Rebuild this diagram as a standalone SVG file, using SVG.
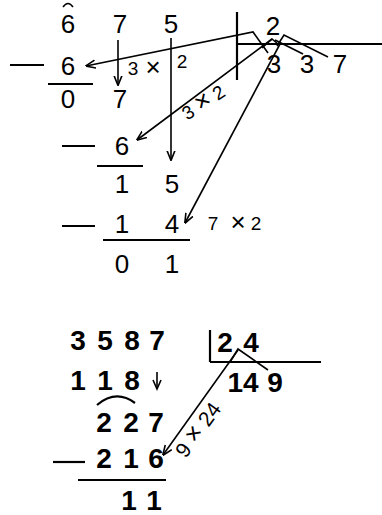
<svg xmlns="http://www.w3.org/2000/svg" width="382" height="515" viewBox="0 0 382 515">
<style>
.d{font-family:"Liberation Sans",Arial,sans-serif;font-size:26px;text-anchor:middle;fill:#000}
.b{font-family:"Liberation Sans",Arial,sans-serif;font-size:28px;font-weight:bold;text-anchor:middle;fill:#000}
.s{font-family:"Liberation Sans",Arial,sans-serif;font-size:19px;text-anchor:middle;fill:#000}
.x{font-size:26px}
.ln{stroke:#000;stroke-width:2.2;fill:none}
.ar{stroke:#000;stroke-width:1.6;fill:none}
.ara{stroke:#000;stroke-width:1.6;fill:none;marker-end:url(#ah)}
</style>
<defs>
<marker id="ah" viewBox="0 0 10 10" refX="9.5" refY="5" markerWidth="10" markerHeight="10" markerUnits="userSpaceOnUse" orient="auto">
<path d="M0,1 L10,5 L0,9" fill="none" stroke="#000" stroke-width="1.6"/>
</marker>
</defs>
<rect width="382" height="515" fill="#fff"/>

<g id="top-division">
<text class="d" x="68" y="33">6</text>
<path class="ar" d="M63,7 Q68,0 73,7"/>
<text class="d" x="120" y="33">7</text>
<text class="d" x="171" y="33">5</text>
<text class="d" x="273" y="35">2</text>
<line class="ln" x1="237" y1="12" x2="237" y2="80"/>
<line class="ln" x1="237" y1="44" x2="382" y2="44"/>
<text class="d" x="274" y="73">3</text>
<text class="d" x="307" y="73">3</text>
<text class="d" x="340" y="73">7</text>

<line class="ln" x1="10" y1="65" x2="44" y2="65"/>
<text class="d" x="68" y="75">6</text>
<line class="ln" x1="48" y1="84" x2="93" y2="84"/>
<text class="d" x="68" y="108">0</text>
<text class="d" x="120" y="108">7</text>

<line class="ln" x1="62" y1="146" x2="95" y2="146"/>
<text class="d" x="122" y="155">6</text>
<line class="ln" x1="97" y1="166" x2="143" y2="166"/>
<text class="d" x="122" y="193">1</text>
<text class="d" x="172" y="193">5</text>

<line class="ln" x1="62" y1="226" x2="95" y2="226"/>
<text class="d" x="122" y="233">1</text>
<text class="d" x="172" y="233">4</text>
<line class="ln" x1="103" y1="240" x2="190" y2="240"/>
<text class="d" x="122" y="273">0</text>
<text class="d" x="172" y="273">1</text>

<text class="s" x="133" y="75">3</text>
<text class="s x" x="153" y="76">×</text>
<text class="s" x="182" y="68">2</text>
<text class="s" x="207" y="108" transform="rotate(-33 207 108)">3 <tspan class="x">×</tspan> 2</text>
<text class="s" x="213" y="230">7</text>
<text class="s x" x="238" y="231">×</text>
<text class="s" x="256" y="230">2</text>
</g>

<g id="bottom-division">
<text class="b" x="78" y="350">3</text>
<text class="b" x="105" y="350">5</text>
<text class="b" x="132" y="350">8</text>
<text class="b" x="157" y="350">7</text>
<line class="ln" x1="210" y1="330" x2="210" y2="362"/>
<line class="ln" x1="210" y1="362" x2="321" y2="362"/>
<text class="b" x="225" y="352">2</text>
<text class="b" x="251" y="352">4</text>
<text class="b" x="78" y="390">1</text>
<text class="b" x="105" y="390">1</text>
<text class="b" x="132" y="390">8</text>
<text class="b" x="243" y="392">14</text>
<text class="b" x="275" y="392">9</text>
<path class="ln" d="M97,405 Q116,389 135,403"/>
<text class="b" x="104" y="432">2</text>
<text class="b" x="131" y="432">2</text>
<text class="b" x="156" y="432">7</text>
<line class="ln" x1="53" y1="462" x2="85" y2="462"/>
<text class="b" x="104" y="468">2</text>
<text class="b" x="131" y="468">1</text>
<text class="b" x="156" y="468">6</text>
<line class="ln" x1="78" y1="480" x2="166" y2="480"/>
<text class="b" x="129" y="510">1</text>
<text class="b" x="154" y="510">1</text>
<text class="s" x="204" y="434" transform="rotate(-54 204 434)" style="font-size:21px">9 <tspan class="x">×</tspan> 24</text>
</g>

<g id="connectors">
<polyline class="ara" points="268,53 253,32 86,66"/>
<line class="ara" x1="118" y1="40" x2="118" y2="85"/>
<line class="ara" x1="171" y1="38" x2="171" y2="160"/>
<polyline class="ar" points="262,48 272,39 278,44"/>
<line class="ara" x1="272" y1="39" x2="137" y2="140"/>
<line class="ar" x1="275" y1="40" x2="303" y2="54"/>
<polyline class="ar" points="277,46 284,35 328,57"/>
<line class="ara" x1="280" y1="44" x2="185" y2="223"/>
<line class="ar" x1="157" y1="372" x2="157" y2="388"/>
<path class="ar" d="M153,380 L157,389 L161,380"/>
<polyline class="ar" points="230,362 238,349 268,370"/>
<line class="ara" x1="238" y1="350" x2="163" y2="455"/>
</g>
</svg>
